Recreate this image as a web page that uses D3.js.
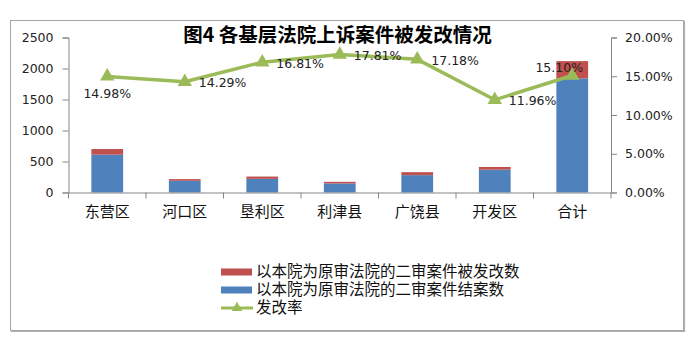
<!DOCTYPE html>
<html><head><meta charset="utf-8">
<script src="https://cdn.jsdelivr.net/npm/d3@7"></script>
<style>
body{margin:0;background:#fff;}
svg text{font-family:"DejaVu Sans",sans-serif;}
.cjk{font-family:"Noto Sans CJK SC",sans-serif;}
</style></head>
<body><svg id="c" width="700" height="341"></svg>
<script>
const categories = ["东营区","河口区","垦利区","利津县","广饶县","开发区","合计"];
const closedCases = [610, 189, 220, 146, 280, 368, 1841];
const revisedCases = [91, 27, 37, 26, 48, 44, 278];
const revisionRate = [14.98, 14.29, 16.81, 17.81, 17.18, 11.96, 15.10];
const leftTicks = [0, 500, 1000, 1500, 2000, 2500];
const rightTicks = [0, 5, 10, 15, 20];
const title = "图4 各基层法院上诉案件被发改情况";
const legendLabels = ["以本院为原审法院的二审案件被发改数","以本院为原审法院的二审案件结案数","发改率"];

const colors = {red:"#C0504D", blue:"#4F81BD", green:"#9BBB59", axis:"#868686"};
const svg = d3.select("#c");

// outer frame
svg.append("rect").attr("x",10.5).attr("y",20.5).attr("width",673).attr("height",310)
  .attr("fill","none").attr("stroke","#a6a6a6").attr("stroke-width",1);
svg.append("path").attr("d","M684.5,21V331.5H11").attr("fill","none").attr("stroke","#b0b0b0").attr("stroke-width",1.2);

const x = d3.scaleBand().domain(categories).range([68.5,611]).paddingInner(0.59).paddingOuter(0.295);
const yL = d3.scaleLinear().domain([0,2500]).range([192.5,37.5]);
const yR = d3.scaleLinear().domain([0,20]).range([192.5,37.5]);

// bars
const data = categories.map((c,i)=>({c, blue:closedCases[i], red:revisedCases[i], rate:revisionRate[i]}));
const g = svg.append("g");
g.selectAll("rect.b").data(data).join("rect").attr("class","b")
  .attr("x",d=>x(d.c)).attr("width",x.bandwidth())
  .attr("y",d=>yL(d.blue)).attr("height",d=>yL(0)-yL(d.blue))
  .attr("fill",colors.blue);
g.selectAll("rect.r").data(data).join("rect").attr("class","r")
  .attr("x",d=>x(d.c)).attr("width",x.bandwidth())
  .attr("y",d=>yL(d.blue+d.red)).attr("height",d=>yL(d.blue)-yL(d.blue+d.red))
  .attr("fill",colors.red);

// axes
const axL = svg.append("g").attr("transform","translate(68.5,0)")
  .call(d3.axisLeft(yL).tickValues(leftTicks).tickSize(6).tickPadding(9).tickFormat(d3.format("d")));
const axR = svg.append("g").attr("transform","translate(611,0)")
  .call(d3.axisRight(yR).tickValues(rightTicks).tickSize(6).tickPadding(8).tickFormat(d=>d.toFixed(2)+"%"));
const axB = svg.append("g").attr("transform","translate(0,192.5)")
  .call(d3.axisBottom(x).tickSize(0).tickPadding(13));
// category separators ticks
const bounds = categories.map(c=>x(c)-x.step()*x.paddingInner()/2).concat([611]);
svg.append("g").selectAll("line").data(bounds).join("line")
  .attr("x1",d=>d).attr("x2",d=>d).attr("y1",192.5).attr("y2",198.5).attr("stroke",colors.axis);
[axL,axR,axB].forEach(a=>{a.selectAll("path,line").attr("stroke",colors.axis);a.select(".domain").attr("stroke",colors.axis);});
axL.selectAll("text").attr("font-size",12.5).attr("fill","#222").attr("font-family","DejaVu Sans");
axR.selectAll("text").attr("font-size",12.5).attr("fill","#222").attr("font-family","DejaVu Sans");
axB.select(".domain").attr("d","M68.5,0.5H611");
axB.selectAll("text").attr("class","cjk").attr("font-size",15).attr("fill","#111").attr("dy","0.75em");

// line
const line = d3.line().x(d=>x(d.c)+x.bandwidth()/2).y(d=>yR(d.rate));
svg.append("path").datum(data).attr("d",line).attr("fill","none").attr("stroke",colors.green).attr("stroke-width",3.5).attr("stroke-linejoin","round");
const tri = d3.symbol().type(d3.symbolTriangle).size(90);
svg.selectAll("path.m").data(data).join("path").attr("class","m")
  .attr("transform",d=>`translate(${x(d.c)+x.bandwidth()/2},${yR(d.rate)})`)
  .attr("d",tri).attr("fill",colors.green);

// data labels
const labelPos = ["below","right","right","right","right","right","above"];
svg.selectAll("text.lbl").data(data).join("text").attr("class","lbl")
  .attr("x",(d,i)=>{const cx=x(d.c)+x.bandwidth()/2; return labelPos[i]==="right"?cx+14:(labelPos[i]==="above"?cx-13:cx);})
  .attr("y",(d,i)=>{const cy=yR(d.rate); return labelPos[i]==="below"?cy+17:(labelPos[i]==="above"?cy-8:cy+1);})
  .attr("dy","0.35em")
  .attr("text-anchor",(d,i)=>labelPos[i]==="right"?"start":"middle")
  .attr("font-size",12.5).attr("fill","#222")
  .text(d=>d.rate.toFixed(2)+"%");

// title
svg.append("text").attr("class","cjk").attr("x",337.5).attr("y",35).attr("dy","0.35em")
  .attr("text-anchor","middle").attr("font-size",19.5).attr("font-weight","bold").attr("fill","#000").text(title);

// legend
const lg = svg.append("g");
const rows = [0,1,2];
rows.forEach(i=>{
  const cy = 272 + i*18;
  if(i<2){
    lg.append("rect").attr("x",221).attr("y",cy-3.5).attr("width",31).attr("height",7).attr("fill",i===0?colors.red:colors.blue);
  } else {
    lg.append("line").attr("x1",221).attr("x2",253).attr("y1",cy).attr("y2",cy).attr("stroke",colors.green).attr("stroke-width",3);
    lg.append("path").attr("transform",`translate(237,${cy})`).attr("d",d3.symbol().type(d3.symbolTriangle).size(50)).attr("fill",colors.green);
  }
  lg.append("text").attr("class","cjk").attr("x",256).attr("y",cy).attr("dy","0.35em")
    .attr("font-size",15.5).attr("fill","#111").text(legendLabels[i]);
});
</script></body></html>
